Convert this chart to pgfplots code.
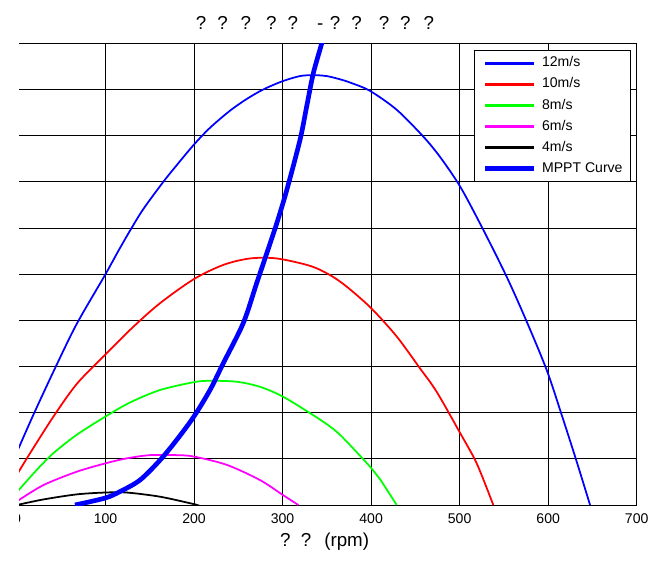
\documentclass[border=0pt]{standalone}
\usepackage{pgfplots}
\pgfplotsset{compat=1.18}
\usepackage{fontspec}
\setmainfont{Liberation Sans}
\definecolor{cBlue}{RGB}{0,0,255}
\definecolor{cRed}{RGB}{255,0,0}
\definecolor{cGreen}{RGB}{0,255,0}
\definecolor{cMag}{RGB}{255,0,255}
\definecolor{cBlack}{RGB}{0,0,0}
\begin{document}
\begin{tikzpicture}
\begin{axis}[
  at={(0,0)}, anchor=south west,
  width=18.591cm, height=13.851cm, scale only axis,
  xmin=0, xmax=700, ymin=0, ymax=10,
  xtick={0,100,...,700}, ytick={0,1,...,10}, yticklabels={},
  grid=major, major grid style={black, line width=0.6pt},
  axis line style={black, line width=0.6pt},
  major tick length=0pt,
  tick label style={font=\fontsize{12}{14}\selectfont},
  xticklabel style={anchor=base, yshift=-0.549cm},
  /pgf/number format/assume math mode=true,
  legend cell align=left,
  legend style={at={(1,1)}, anchor=north east, xshift=-0.18cm, yshift=-0.2cm,
    draw=black, line width=0.8pt, font=\fontsize{12}{14}\selectfont,
    inner xsep=0.06cm, inner ysep=5pt, row sep=6pt,
    nodes={inner ysep=0pt, inner xsep=0.17cm, text height=9pt, text depth=3pt}},
  legend image code/.code={\path (0cm,0cm); \draw[#1] (0.19cm,0cm) -- (1.64cm,0cm);},
  every axis plot/.append style={smooth},
]
\addplot[cBlue, line width=1.5pt, legend image post style={line width=2.3pt}] coordinates {(0,1.15) (18.4,1.95) (42.9,2.96) (67.4,3.92) (99.4,4.98) (114.4,5.50) (127.6,5.94) (142.7,6.41) (165.3,7.00) (180.4,7.36) (199.6,7.80) (218.0,8.17) (240.6,8.54) (260,8.80) (278.2,9.00) (300.1,9.18) (319.7,9.29) (334.7,9.31) (349.8,9.29) (364.9,9.22) (376.2,9.15) (398.7,8.97) (428.9,8.56) (458.9,7.98) (477.8,7.54) (500.8,6.89) (526.7,5.96) (553.2,4.94) (575.8,3.97) (598.4,2.92) (615.3,1.95) (632.2,0.94) (647.3,0)};
\addlegendentry{12m/s}
\addplot[cRed, line width=1.5pt, legend image post style={line width=2.3pt}] coordinates {(0,0.66) (14.7,1.12) (41.0,1.91) (67.4,2.62) (99.4,3.25) (131.4,3.86) (161.5,4.37) (199.6,4.89) (233.0,5.20) (263.2,5.34) (293.4,5.34) (331.0,5.18) (353.6,4.98) (372.4,4.73) (400.2,4.26) (428.9,3.65) (455.2,2.96) (474.1,2.45) (500.8,1.55) (519.3,0.90) (538.0,0)};
\addlegendentry{10m/s}
\addplot[cGreen, line width=1.5pt, legend image post style={line width=2.3pt}] coordinates {(0,0.28) (22.3,0.76) (41.0,1.12) (67.4,1.52) (99.4,1.91) (127.6,2.22) (161.5,2.49) (199.6,2.66) (218.0,2.69) (248.2,2.67) (274.5,2.56) (300.1,2.35) (331.0,1.99) (353.6,1.70) (368.6,1.45) (400.2,0.80) (410.0,0.56) (428.9,0)};
\addlegendentry{8m/s}
\addplot[cMag, line width=1.5pt, legend image post style={line width=2.3pt}] coordinates {(0,0.08) (29.7,0.43) (67.4,0.72) (99.4,0.90) (123.9,1.01) (150.2,1.08) (180.4,1.08) (199.6,1.05) (236.9,0.87) (274.5,0.54) (300.1,0.22) (317.8,0)};
\addlegendentry{6m/s}
\addplot[cBlack, line width=1.5pt, legend image post style={line width=2.3pt}] coordinates {(0,0) (29.7,0.12) (67.4,0.23) (99.4,0.27) (123.9,0.27) (161.5,0.18) (199.6,0.02) (203,0)};
\addlegendentry{4m/s}
\addplot[cBlue, line width=4pt, legend image post style={line width=4.5pt}] coordinates {(65.5,0) (99.4,0.15) (116.3,0.29) (138.9,0.54) (161.5,0.97) (180.4,1.41) (199.6,1.91) (218.0,2.49) (233.0,3.07) (255.6,3.94) (270.8,4.81) (282.1,5.45) (293.4,6.10) (304.7,6.82) (319.7,7.91) (327.2,8.63) (334.7,9.35) (344.2,10.0) (346,10.2)};
\addlegendentry{MPPT Curve}
\end{axis}
\node[anchor=base west, font=\fontsize{16}{19}\selectfont, inner sep=0pt] at (5.36cm,14.25cm) {?\hspace{0.33cm}?\hspace{0.39cm}?\hspace{0.45cm}?\hspace{0.33cm}?\hspace{0.57cm}-\hspace{0.2cm}?\hspace{0.33cm}?\hspace{0.51cm}?\hspace{0.33cm}?\hspace{0.39cm}?};
\node[anchor=base west, font=\fontsize{16}{19}\selectfont, inner sep=0pt] at (7.89cm,-1.23cm) {?\hspace{0.306cm}?\hspace{0.39cm}(rpm)};
\fill[white] (-0.51cm,-1.68cm) rectangle (0.06cm,15.15cm);
\pgfresetboundingbox
\useasboundingbox (-0.51cm,-1.68cm) rectangle (19.62cm,15.15cm);
\end{tikzpicture}
\end{document}
